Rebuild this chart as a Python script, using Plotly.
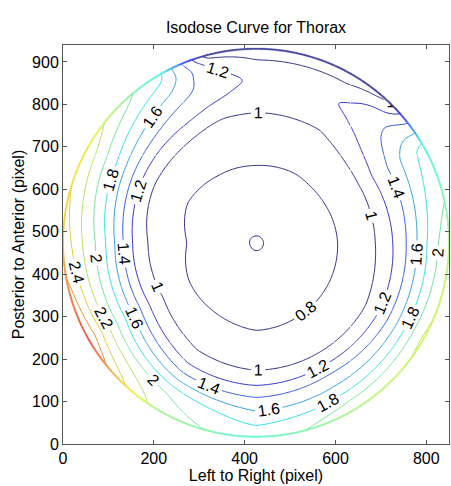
import numpy as np
import plotly.graph_objects as go

# ---- data -----------------------------------------------------------------
# dose along rays from the phantom centre (angle in degrees, 0 = right, 90 = up)
# sampled at normalised radii RADII (1.0 = phantom outline)
ANGLES = [0, 30, 45, 60, 90, 105, 120, 150, 180, 210, 240, 270, 300, 330]
RADII = [0.0, 0.2, 0.4, 0.5, 0.6, 0.66, 0.72, 0.78, 0.84, 0.9, 0.95, 1.0]
DOSE_000 = [0.58, 0.675, 0.78, 0.866, 0.968, 1.072, 1.229, 1.40, 1.623, 1.854, 2.023, 2.12]
DOSE_030 = [0.58, 0.679, 0.792, 0.878, 0.97, 1.119, 1.275, 1.385, 1.555, 1.692, 1.794, 1.85]
DOSE_045 = [0.58, 0.68, 0.795, 0.878, 0.965, 1.042, 1.168, 1.25, 1.32, 1.33, 1.2, 1.0]
DOSE_060 = [0.58, 0.679, 0.792, 0.866, 0.943, 0.989, 1.059, 1.136, 1.21, 1.1, 1.0, 0.78]
DOSE_090 = [0.58, 0.682, 0.80, 0.873, 0.945, 0.989, 1.046, 1.108, 1.17, 1.10, 0.99, 0.78]
DOSE_105 = [0.58, 0.685, 0.80, 0.871, 0.943, 0.986, 1.123, 1.237, 1.30, 1.24, 1.18, 0.9]
DOSE_120 = [0.58, 0.685, 0.80, 0.88, 0.96, 1.036, 1.229, 1.343, 1.48, 1.64, 1.773, 1.85]
DOSE_150 = [0.58, 0.68, 0.79, 0.883, 0.98, 1.145, 1.364, 1.60, 1.833, 2.033, 2.2, 2.35]
DOSE_180 = [0.58, 0.694, 0.829, 0.922, 1.053, 1.277, 1.548, 1.812, 2.03, 2.195, 2.388, 2.5]
DOSE_210 = [0.58, 0.69, 0.797, 0.909, 1.067, 1.28, 1.533, 1.80, 2.04, 2.30, 2.533, 2.85]
DOSE_240 = [0.58, 0.68, 0.785, 0.868, 0.959, 1.043, 1.218, 1.444, 1.725, 2.0, 2.05, 2.1]
DOSE_270 = [0.58, 0.668, 0.766, 0.831, 0.935, 0.997, 1.146, 1.35, 1.522, 1.688, 1.82, 1.9]
DOSE_300 = [0.58, 0.671, 0.772, 0.844, 0.941, 1.0, 1.185, 1.414, 1.586, 1.80, 2.02, 2.12]
DOSE_330 = [0.58, 0.673, 0.777, 0.851, 0.944, 1.0, 1.171, 1.367, 1.60, 1.844, 2.075, 2.25]

LEVELS = [0.6, 0.8, 1.0, 1.2, 1.4, 1.6, 1.8, 2.0, 2.2, 2.4, 2.6]
X_TICKS = [0, 200, 400, 600, 800]
Y_TICKS = [0, 100, 200, 300, 400, 500, 600, 700, 800, 900]

# phantom outline (ellipse, pixel units of the image)
CX, CY, RX, RY = 425.0, 474.0, 425.0, 457.0
X_RANGE = [0, 850]
Y_RANGE = [0, 940]
C_MIN, C_MAX = 1.0, 3.13

# ---- build the dose grid ----------------------------------------------------
table = np.array([DOSE_000, DOSE_030, DOSE_045, DOSE_060, DOSE_090, DOSE_105,
                  DOSE_120, DOSE_150, DOSE_180, DOSE_210, DOSE_240, DOSE_270,
                  DOSE_300, DOSE_330])
radii = np.array(RADII)
xs = np.linspace(0, 850, 213)
ys = np.linspace(0, 940, 236)
XX, YY = np.meshgrid(xs, ys)
u = (XX - CX) / RX
v = (YY - CY) / RY
rho = np.clip(np.sqrt(u ** 2 + v ** 2), 0, 1.0)
theta = np.degrees(np.arctan2(v, u)) % 360
vals = np.stack([np.interp(theta, ANGLES, table[:, j], period=360)
                 for j in range(len(RADII))], axis=-1)
j = np.clip(np.searchsorted(radii, rho, side='right') - 1, 0, len(RADII) - 2)
t = (rho - radii[j]) / (radii[j + 1] - radii[j])
lo = np.take_along_axis(vals, j[..., None], axis=-1)[..., 0]
hi = np.take_along_axis(vals, (j + 1)[..., None], axis=-1)[..., 0]
Z = lo * (1 - t) + hi * t


def smooth(z, n):
    for _ in range(n):
        zp = np.pad(z, 1, mode='edge')
        z = (zp[:-2, :-2] + zp[:-2, 1:-1] + zp[:-2, 2:] +
             zp[1:-1, :-2] + zp[1:-1, 1:-1] + zp[1:-1, 2:] +
             zp[2:, :-2] + zp[2:, 1:-1] + zp[2:, 2:]) / 9.0
    return z


Z = smooth(Z, 4)


def jet(tt, fade=0.28, grey=175):
    tt = min(max(tt, 0.0), 1.0)
    r = min(max(1.5 - abs(4 * tt - 3), 0), 1)
    g = min(max(1.5 - abs(4 * tt - 2), 0), 1)
    b = min(max(1.5 - abs(4 * tt - 1), 0), 1)
    mix = lambda c: round(c * 255 * (1 - fade) + grey * fade)
    return 'rgb(%d,%d,%d)' % (mix(r), mix(g), mix(b))


# colour scale spanning the contour levels (first level -> 0, last -> 1)
LINE_SCALE = [[k / (len(LEVELS) - 1), jet((lev - C_MIN) / (C_MAX - C_MIN), 0.3, 150)]
              for k, lev in enumerate(LEVELS)]
RING_SCALE = [[k / 20, jet(k / 20, 0.2, 200)] for k in range(21)]
FONT = 'Liberation Sans, Arial, Helvetica, sans-serif'

fig = go.Figure()
# split the field into tiles so that every tile gets its own contour labels
XI = [0, 66, 158, len(xs) - 1]
YI = [0, 60, 170, len(ys) - 1]
for a in range(len(XI) - 1):
    for b in range(len(YI) - 1):
        i0, i1 = XI[a], XI[a + 1]
        j0, j1 = YI[b], YI[b + 1]
        fig.add_trace(go.Contour(
            x=xs[i0:i1 + 1], y=ys[j0:j1 + 1], z=Z[j0:j1 + 1, i0:i1 + 1],
            autocontour=False, showscale=False, hoverinfo='skip',
            colorscale=LINE_SCALE,
            contours=dict(start=LEVELS[0], end=LEVELS[-1], size=0.2,
                          coloring='lines', showlabels=True,
                          labelformat='.2~g',
                          labelfont=dict(family=FONT, size=16, color='black')),
            line=dict(width=1),
        ))

# white mask outside the phantom outline (keyhole polygon)
tt = np.linspace(np.pi, -np.pi, 361)
ex = CX + RX * np.cos(tt)
ey = CY + RY * np.sin(tt)
mx = np.concatenate([[-60, -60, 920, 920, -60, -60], ex, [-60]])
my = np.concatenate([[CY, -60, -60, 1010, 1010, CY], ey, [CY]])
fig.add_trace(go.Scatter(x=mx, y=my, mode='lines', fill='toself',
                         fillcolor='white', line=dict(width=0, color='white'),
                         hoverinfo='skip'))

# coloured outline of the phantom (edge dose)
ta = np.linspace(0, 2 * np.pi, 721)
edge = np.interp(np.degrees(ta) % 360, ANGLES, table[:, -1], period=360)
fig.add_trace(go.Scatter(
    x=CX + RX * np.cos(ta), y=CY + RY * np.sin(ta), mode='markers',
    marker=dict(size=2.3, color=edge, colorscale=RING_SCALE, cmin=C_MIN,
                cmax=C_MAX, opacity=0.8, line=dict(width=0)),
    hoverinfo='skip'))

axis_common = dict(showgrid=False, zeroline=False, showline=True,
                   linecolor='#555555', linewidth=1, mirror='ticks',
                   ticks='inside', ticklen=4, tickcolor='#555555',
                   tickfont=dict(family=FONT, size=16, color='black'))
fig.update_layout(
    width=451, height=486,
    margin=dict(l=63, r=2, t=45, b=42),
    paper_bgcolor='white', plot_bgcolor='white', showlegend=False,
    title=dict(text='Isodose Curve for Thorax', x=0.5, xref='paper',
               xanchor='center', y=1 - 27 / 486, yref='container',
               yanchor='middle', font=dict(family=FONT, size=16, color='black')),
    xaxis=dict(range=X_RANGE, tickvals=X_TICKS, **axis_common,
               title=dict(text='Left to Right (pixel)', standoff=1,
                          font=dict(family=FONT, size=16, color='black'))),
    yaxis=dict(range=Y_RANGE, tickvals=Y_TICKS, **axis_common,
               title=dict(text='Posterior to Anterior (pixel)', standoff=3,
                          font=dict(family=FONT, size=16, color='black'))),
)
fig.write_html('out.html')
